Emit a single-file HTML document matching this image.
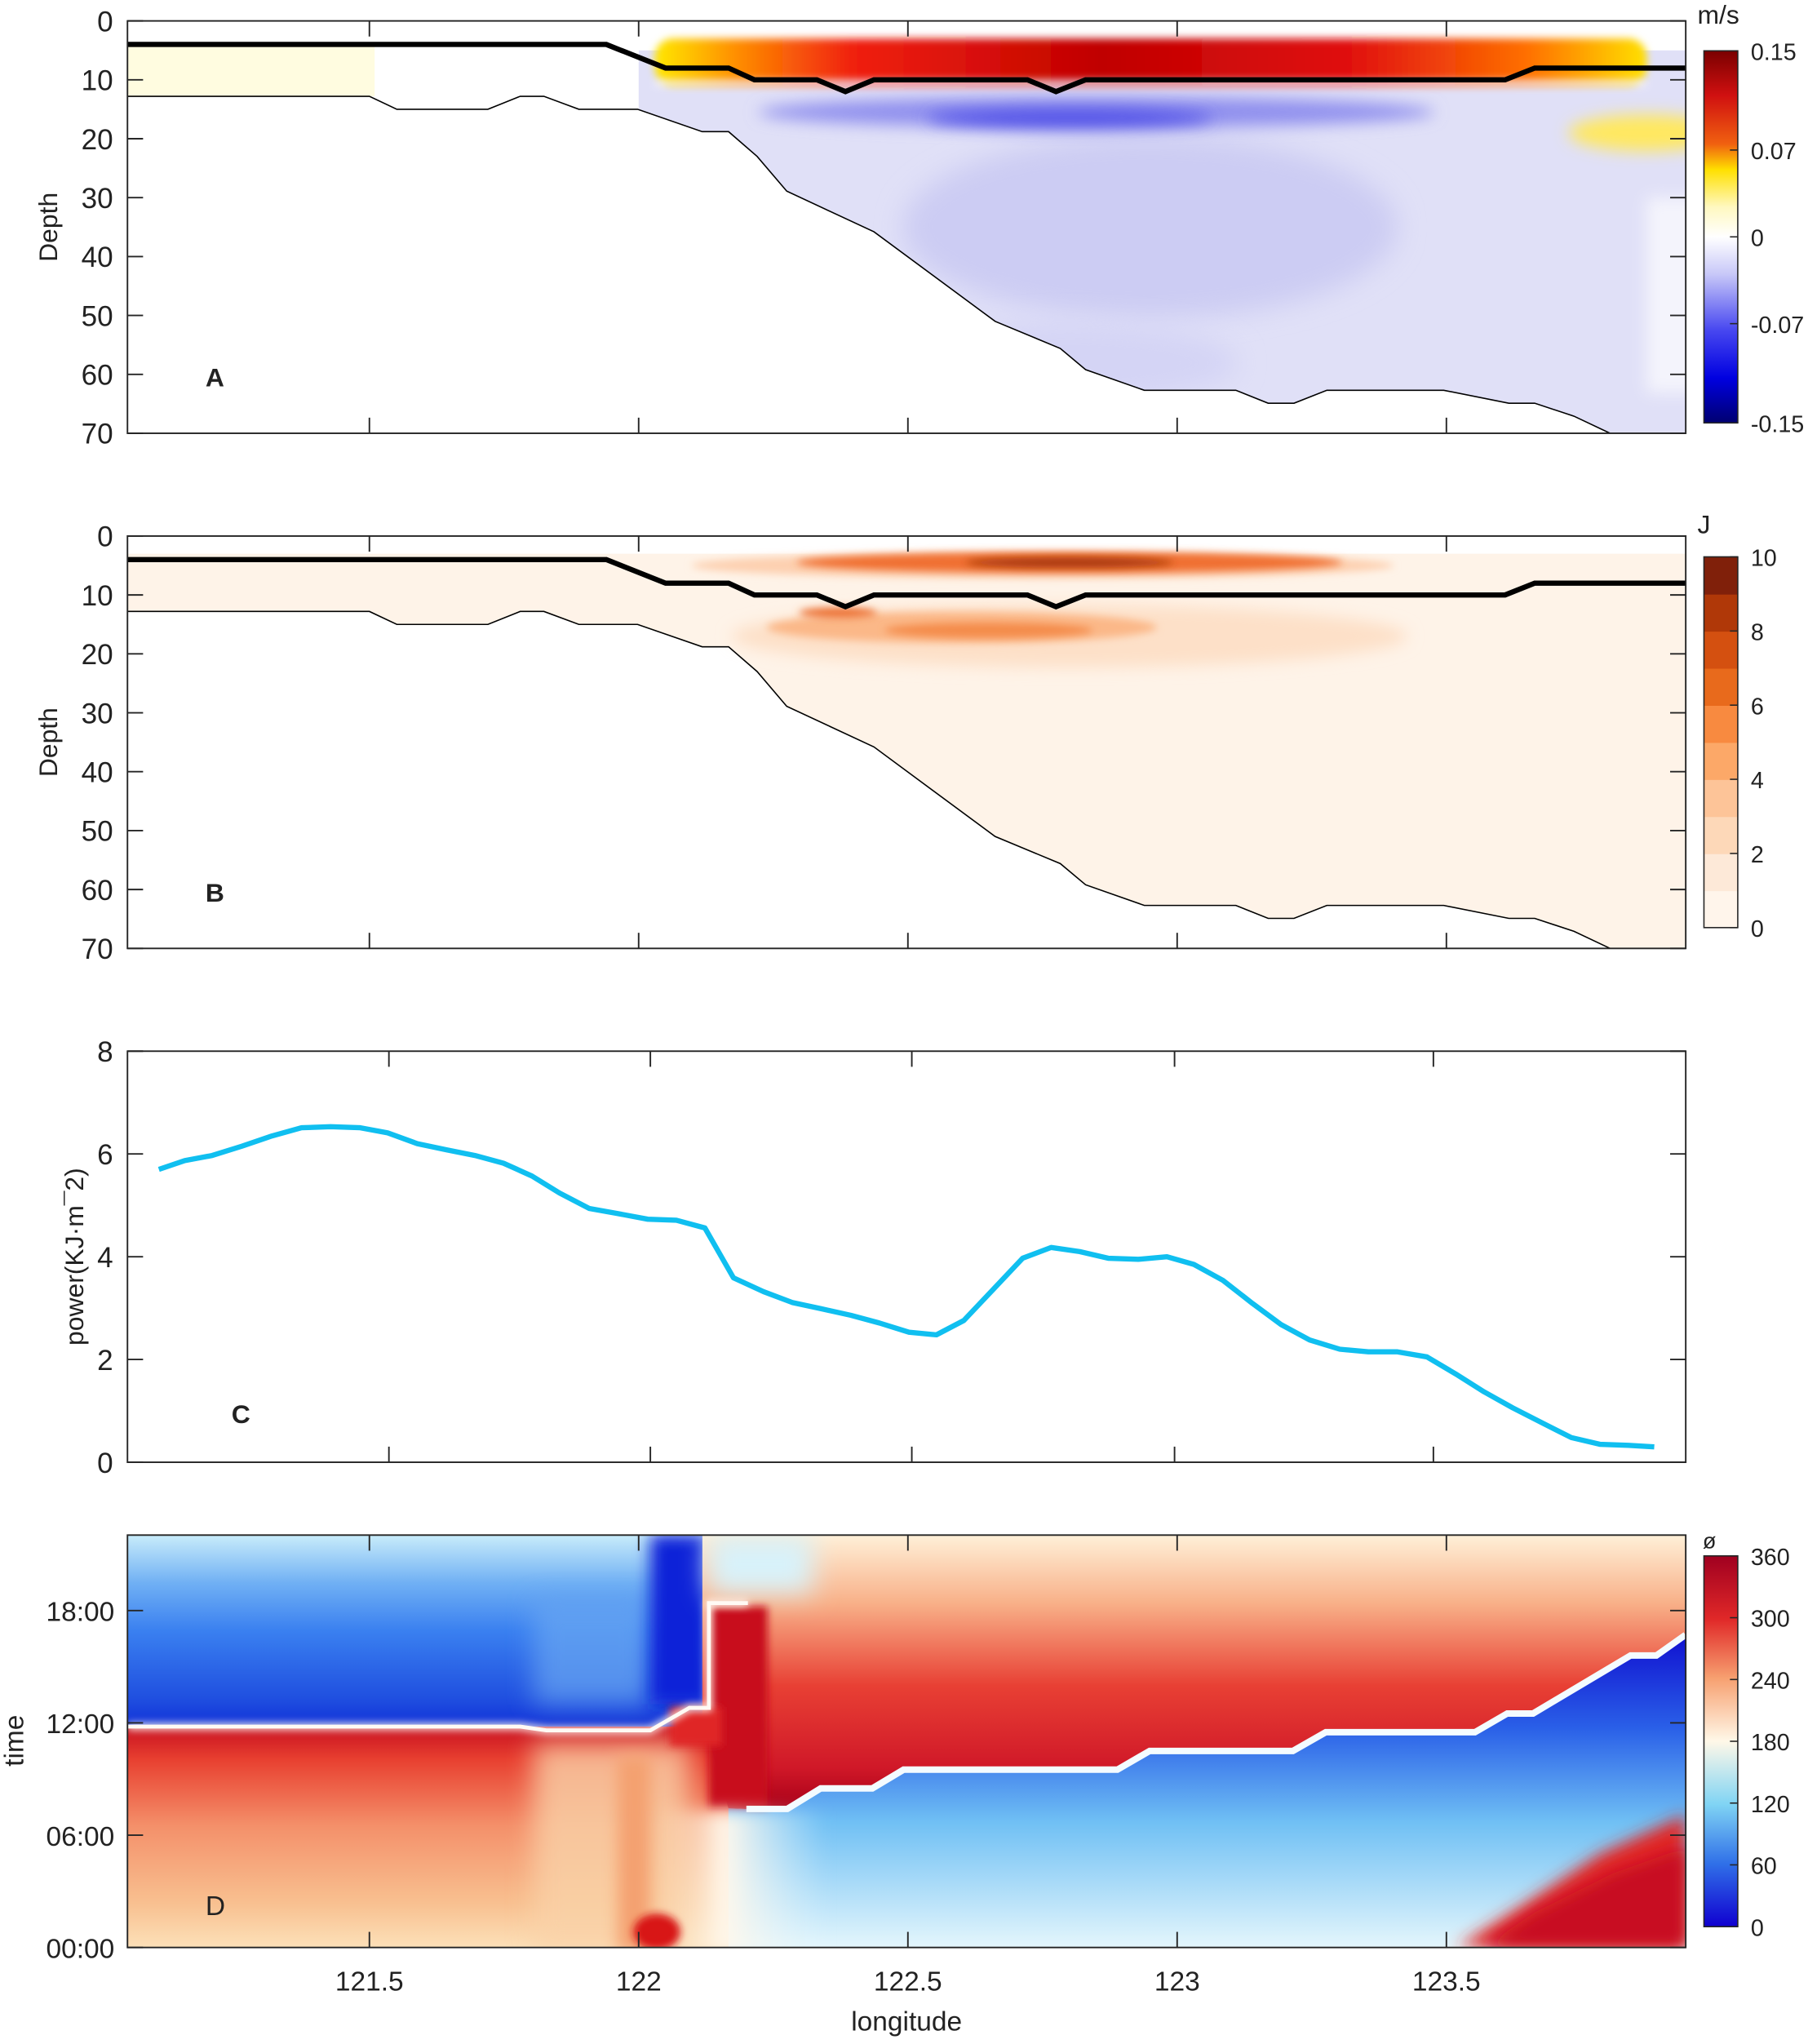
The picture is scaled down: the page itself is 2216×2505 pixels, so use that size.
<!DOCTYPE html>
<html><head><meta charset="utf-8"><style>
html,body{margin:0;padding:0;background:#fff;}
svg text{font-family:"Liberation Sans",sans-serif;fill:#222;}
</style></head><body>
<svg id="fig" xmlns="http://www.w3.org/2000/svg" width="2216" height="2500" viewBox="0 0 1390 1568">
<defs>
<filter id="b6" x="-50%" y="-150%" width="200%" height="400%"><feGaussianBlur stdDeviation="6"/></filter>
<filter id="b10" x="-50%" y="-150%" width="200%" height="400%"><feGaussianBlur stdDeviation="10"/></filter>
<filter id="b3" x="-50%" y="-150%" width="200%" height="400%"><feGaussianBlur stdDeviation="3"/></filter>
<linearGradient id="cbA" x1="0" y1="0" x2="0" y2="1">
<stop offset="0" stop-color="#7a0000"/><stop offset="0.12" stop-color="#d01010"/><stop offset="0.25" stop-color="#f06010"/><stop offset="0.32" stop-color="#ffe000"/><stop offset="0.42" stop-color="#fff8c0"/><stop offset="0.5" stop-color="#ffffff"/><stop offset="0.6" stop-color="#c8c8f8"/><stop offset="0.75" stop-color="#4848f0"/><stop offset="0.88" stop-color="#0000e0"/><stop offset="1" stop-color="#000070"/></linearGradient>
<linearGradient id="cbD" x1="0" y1="0" x2="0" y2="1">
<stop offset="0" stop-color="#a00020"/><stop offset="0.17" stop-color="#e02828"/><stop offset="0.33" stop-color="#f7a070"/><stop offset="0.5" stop-color="#fff8e8"/><stop offset="0.67" stop-color="#80d4f4"/><stop offset="0.83" stop-color="#3070e8"/><stop offset="1" stop-color="#1000d0"/></linearGradient>
<linearGradient id="redH" x1="0" y1="0" x2="1" y2="0">
<stop offset="0" stop-color="#ffe800"/><stop offset="0.08" stop-color="#ff9000"/><stop offset="0.2" stop-color="#f02010"/><stop offset="0.45" stop-color="#c00000"/><stop offset="0.7" stop-color="#e01010"/><stop offset="0.88" stop-color="#ff7000"/><stop offset="1" stop-color="#ffe000"/></linearGradient>
<linearGradient id="dLT" x1="0" y1="0" x2="0" y2="1">
<stop offset="0" stop-color="#c8ecfa"/><stop offset="0.25" stop-color="#70b0f4"/><stop offset="0.5" stop-color="#3a80f0"/><stop offset="0.85" stop-color="#2050e0"/><stop offset="1" stop-color="#1030d8"/></linearGradient>
<linearGradient id="dLB" x1="0" y1="0" x2="0" y2="1">
<stop offset="0" stop-color="#c81020"/><stop offset="0.15" stop-color="#e84030"/><stop offset="0.45" stop-color="#f4906a"/><stop offset="0.8" stop-color="#f8c090"/><stop offset="1" stop-color="#fce0b8"/></linearGradient>
<linearGradient id="dRT" x1="0" y1="0" x2="0" y2="1">
<stop offset="0" stop-color="#fff0d8"/><stop offset="0.25" stop-color="#f8b088"/><stop offset="0.55" stop-color="#e84034"/><stop offset="0.85" stop-color="#d01828"/><stop offset="1" stop-color="#a80018"/></linearGradient>
<linearGradient id="dRB" x1="0" y1="0" x2="0" y2="1">
<stop offset="0" stop-color="#1010d0"/><stop offset="0.3" stop-color="#2a60e8"/><stop offset="0.6" stop-color="#70c0f4"/><stop offset="1" stop-color="#e4f6fc"/></linearGradient>
<linearGradient id="dMid" x1="0" y1="0" x2="1" y2="0">
<stop offset="0" stop-color="#fce8c8" stop-opacity="0"/><stop offset="0.4" stop-color="#fff8ec"/><stop offset="1" stop-color="#e4f6fc" stop-opacity="0"/></linearGradient>
<clipPath id="clipA"><rect x="98" y="16" width="1198" height="317"/></clipPath>
<clipPath id="clipB"><rect x="98" y="412" width="1198" height="317"/></clipPath>
<clipPath id="clipD"><rect x="98" y="1180" width="1198" height="317"/></clipPath>
</defs>
<g id="panelA"></g>
<g id="panelB"></g>
<g id="panelC"></g>
<g id="panelD"></g>
</svg>
<script>
// ---- data ----
const bathyLon = [121.051,121.5,121.551,121.72,121.78,121.824,121.889,121.998,122.118,122.167,122.22,122.275,122.437,122.662,122.783,122.83,122.939,123.109,123.169,123.217,123.278,123.495,123.616,123.664,123.737,123.804];
const bathyDepth = [12.8,12.8,15,15,12.8,12.8,15,15,18.8,18.8,23,28.9,35.8,51,55.6,59.2,62.7,62.7,64.9,64.9,62.7,62.7,64.9,64.9,67.1,70];
const mldLon = [121.051,121.94,122.05,122.167,122.215,122.331,122.384,122.437,122.722,122.775,122.83,123.609,123.664,123.944];
const mldDepth = [4,4,8,8,10,10,12,10,10,12,10,10,8,8];
const powerLon = [121.109,121.157,121.208,121.263,121.319,121.374,121.428,121.483,121.534,121.589,121.643,121.696,121.749,121.802,121.853,121.908,121.961,122.017,122.070,122.123,122.176,122.232,122.285,122.338,122.394,122.447,122.502,122.553,122.604,122.659,122.713,122.766,122.819,122.872,122.928,122.981,123.031,123.085,123.140,123.193,123.246,123.302,123.355,123.408,123.464,123.517,123.570,123.623,123.679,123.732,123.785,123.838,123.886];
const powerVal = [5.70,5.87,5.97,6.15,6.35,6.51,6.53,6.51,6.41,6.20,6.08,5.97,5.82,5.57,5.24,4.94,4.84,4.73,4.71,4.56,3.59,3.32,3.11,2.99,2.86,2.71,2.53,2.48,2.76,3.37,3.97,4.18,4.10,3.97,3.95,4.00,3.85,3.54,3.09,2.68,2.38,2.20,2.15,2.15,2.05,1.72,1.37,1.06,0.76,0.48,0.35,0.33,0.30];
const depthTicks = [0,10,20,30,40,50,60,70];
const lonTicks = [121.5,122,122.5,123,123.5];
const powerTicks = [0,2,4,6,8];
const timeTicks = ["00:00","06:00","12:00","18:00"];
const timeTickHours = [0,6,12,18];
const cbATicks = ["0.15","0.07","0","-0.07","-0.15"];
const cbAVals = [0.15,0.07,0,-0.07,-0.15];
const cbBTicks = [0,2,4,6,8,10];
const cbBColors = ["#fff5eb","#fde9d8","#fdd8b8","#fdc498","#fca868","#f88a40","#e86a1c","#d45010","#b03808","#80200a"];
const cbDTicks = [0,60,120,180,240,300,360];
const phaseLineLon = [122.2,122.276,122.338,122.434,122.492,122.889,122.949,123.215,123.276,123.553,123.613,123.661,123.842,123.890,123.944];
const phaseLineHour = [7.4,7.4,8.5,8.5,9.5,9.5,10.5,10.5,11.5,11.5,12.5,12.5,15.6,15.6,16.7];

// ---- scales ----
const NS="http://www.w3.org/2000/svg";
const X0=98,X1=1296;
function xs(lon){return 284+(lon-121.5)*414;}
function yd(top,d){return top+d*317/70;}
function yp(v){return 1124-v*316/8;}
function yt(h){return 1497-h*(1497-1238)/18;}
function mk(parent,tag,attrs,txt){const e=document.createElementNS(NS,tag);for(const k in attrs)e.setAttribute(k,attrs[k]);if(txt!==undefined)e.textContent=txt;parent.appendChild(e);return e;}

function frame(g,top,bot,tickXs){
  const f=mk(g,'rect',{x:X0,y:top,width:X1-X0,height:bot-top,fill:'none',stroke:'#262626','stroke-width':1.2});
  
  
  tickXs.forEach(x=>{
    mk(g,'line',{x1:x,y1:bot,x2:x,y2:bot-12,stroke:'#262626','stroke-width':1.2});
    mk(g,'line',{x1:x,y1:top,x2:x,y2:top+12,stroke:'#262626','stroke-width':1.2});
  });
}
function depthAxis(g,top,bot){
  depthTicks.forEach(d=>{
    const y=yd(top,d);
    mk(g,'line',{x1:X0,y1:y,x2:X0+12,y2:y,stroke:'#262626','stroke-width':1.2});
    mk(g,'line',{x1:X1,y1:y,x2:X1-12,y2:y,stroke:'#262626','stroke-width':1.2});
    const t=mk(g,'text',{x:87,y:y+8,'text-anchor':'end','font-size':22},String(d));
    
    
  });
  const yl=mk(g,'text',{x:44,y:(top+bot)/2,'text-anchor':'middle','font-size':20,transform:`rotate(-90 44 ${(top+bot)/2})`},'Depth');
  
  
}
function bathyLines(g,top){
  let p=bathyLon.map((l,i)=>`${xs(l)},${yd(top,bathyDepth[i])}`).join(' ');
  const b=mk(g,'polyline',{points:p,fill:'none',stroke:'#000','stroke-width':1});
  
  
  let q=mldLon.map((l,i)=>`${xs(l)},${yd(top,mldDepth[i])}`).join(' ');
  const m=mk(g,'polyline',{points:q,fill:'none',stroke:'#000','stroke-width':4,'stroke-linejoin':'miter'});
  
  
}
function bathyRev(top,from){
  const pts=[];
  for(let i=bathyLon.length-1;i>=from;i--) pts.push(`${xs(bathyLon[i])},${yd(top,bathyDepth[i])}`);
  return pts.join(' ');
}
const lonTickXs=lonTicks.map(xs);

// ---- Panel A ----
(function(){
  const g=document.getElementById('panelA');const top=16,bot=333;
  const c=mk(g,'g',{'clip-path':'url(#clipA)'});
  
  
  // mask water region for panel A blue fill
  const cp=mk(document.querySelector('defs'),'clipPath',{id:'waterA'});
  mk(cp,'polygon',{points:`${xs(122.0)},${yd(top,5)} ${X1},${yd(top,5)} ${X1},${bot} `+bathyRev(top,7)});
  const w=mk(c,'g',{'clip-path':'url(#waterA)'});
  mk(w,'rect',{x:xs(122.0),y:top,width:X1-xs(122.0),height:bot-top,fill:'#e0e0f7'});
  mk(w,'ellipse',{cx:xs(122.95),cy:yd(top,35),rx:190,ry:70,fill:'#ccccf3',filter:'url(#b10)'});
  mk(w,'ellipse',{cx:xs(122.8),cy:yd(top,58),rx:130,ry:30,fill:'#d4d4f5',filter:'url(#b10)'});
  mk(w,'rect',{x:xs(122.08),y:yd(top,40),width:130,height:120,fill:'#f4f4fc',filter:'url(#b10)'});
  mk(w,'rect',{x:X1-30,y:yd(top,30),width:40,height:150,fill:'#f4f4fc',filter:'url(#b6)'});
  mk(w,'ellipse',{cx:xs(122.85),cy:yd(top,15.5),rx:260,ry:12,fill:'#9090ee',filter:'url(#b6)'});
  mk(w,'ellipse',{cx:xs(122.8),cy:yd(top,16.5),rx:110,ry:7,fill:'#5050e8',filter:'url(#b6)'});
  mk(w,'ellipse',{cx:X1-30,cy:yd(top,19),rx:60,ry:14,fill:'#ffe860',filter:'url(#b6)'});
  mk(c,'rect',{x:98,y:yd(top,4),width:190,height:yd(top,12.8)-yd(top,4),fill:'#fffce0'});
  mk(c,'rect',{x:xs(122.03),y:yd(top,3),width:X1-30-xs(122.03),height:yd(top,11)-yd(top,3),rx:14,fill:'url(#redH)',filter:'url(#b3)'});
  mk(c,'rect',{x:xs(122.03),y:yd(top,10),width:X1-30-xs(122.03),height:5,fill:'#f8f4ff',filter:'url(#b3)',opacity:0.8});
  bathyLines(g,top);
  frame(g,top,bot,lonTickXs);depthAxis(g,top,bot);
  const l=mk(g,'text',{x:158,y:297,'font-size':20,'font-weight':'bold'},'A');
  
  const cb=mk(g,'rect',{x:1310,y:39,width:26,height:286,fill:'url(#cbA)',stroke:'#262626','stroke-width':1});
  
  cbAVals.forEach((v,i)=>{const y=39+(0.15-v)/0.30*286;
    mk(g,'line',{x1:1330,y1:y,x2:1336,y2:y,stroke:'#262626'});
    const t=mk(g,'text',{x:1346,y:y+7,'font-size':18},cbATicks[i]);
    });
  const u=mk(g,'text',{x:1305,y:18,'font-size':20},'m/s');
  
})();

// ---- Panel B ----
(function(){
  const g=document.getElementById('panelB');const top=412,bot=729;
  const c=mk(g,'g',{'clip-path':'url(#clipB)'});
  
  
  mk(c,'polygon',{points:`${X0},${yd(top,3)} ${X1},${yd(top,3)} ${X1},${bot} `+bathyRev(top,0),fill:'#fef3e8'});
  mk(c,'ellipse',{cx:xs(122.8),cy:yd(top,17),rx:260,ry:24,fill:'#fde0c8',filter:'url(#b6)'});
  mk(c,'ellipse',{cx:xs(122.75),cy:yd(top,5),rx:270,ry:10,fill:'#fdd0b0',filter:'url(#b3)'});
  mk(c,'ellipse',{cx:xs(122.8),cy:yd(top,4.5),rx:210,ry:8,fill:'#f07030',filter:'url(#b3)'});
  mk(c,'ellipse',{cx:xs(122.8),cy:yd(top,4.5),rx:80,ry:4,fill:'#a83808',filter:'url(#b3)'});
  mk(c,'ellipse',{cx:xs(122.6),cy:yd(top,15.5),rx:150,ry:12,fill:'#fbb888',filter:'url(#b3)'});
  mk(c,'ellipse',{cx:xs(122.65),cy:yd(top,16),rx:80,ry:6,fill:'#f48c4c',filter:'url(#b3)'});
  mk(c,'ellipse',{cx:xs(122.37),cy:yd(top,13),rx:30,ry:4,fill:'#ec7030',filter:'url(#b3)'});
  bathyLines(g,top);
  frame(g,top,bot,lonTickXs);depthAxis(g,top,bot);
  const l=mk(g,'text',{x:158,y:693,'font-size':20,'font-weight':'bold'},'B');
  
  const cg=mk(g,'g',{});
  
  const h=(713-428)/10;
  cbBColors.forEach((col,i)=>{mk(cg,'rect',{x:1310,y:713-(i+1)*h,width:26,height:h+0.5,fill:col});});
  mk(cg,'rect',{x:1310,y:428,width:26,height:285,fill:'none',stroke:'#262626'});
  cbBTicks.forEach(v=>{const y=713-v*h;
    mk(g,'line',{x1:1330,y1:y,x2:1336,y2:y,stroke:'#262626'});
    const t=mk(g,'text',{x:1346,y:y+7,'font-size':18},String(v));
    });
  const u=mk(g,'text',{x:1305,y:410,'font-size':20},'J');
  
})();

// ---- Panel C ----
(function(){
  const g=document.getElementById('panelC');const top=808,bot=1124;
  frame(g,top,bot,[299,500,701,903,1102]);
  powerTicks.forEach(v=>{const y=yp(v);
    mk(g,'line',{x1:X0,y1:y,x2:X0+12,y2:y,stroke:'#262626','stroke-width':1.2});
    mk(g,'line',{x1:X1,y1:y,x2:X1-12,y2:y,stroke:'#262626','stroke-width':1.2});
    const t=mk(g,'text',{x:87,y:y+8,'text-anchor':'end','font-size':22},String(v));
    });
  const pts=powerLon.map((l,i)=>`${xs(l)},${yp(powerVal[i])}`).join(' ');
  const ln=mk(g,'polyline',{points:pts,fill:'none',stroke:'#10bff0','stroke-width':4,'stroke-linejoin':'round'});
  
  const yl=mk(g,'text',{x:64,y:966,'text-anchor':'middle','font-size':20,transform:'rotate(-90 64 966)'},'power(KJ·m¯2)');
  
  const l=mk(g,'text',{x:178,y:1094,'font-size':20,'font-weight':'bold'},'C');
  
})();

// ---- Panel D ----
(function(){
  const g=document.getElementById('panelD');const top=1180,bot=1497;
  const c=mk(g,'g',{'clip-path':'url(#clipD)'});
  
  
  const yl12=yt(11.8);
  mk(c,'rect',{x:98,y:top,width:470,height:yl12-top,fill:'url(#dLT)'});
  mk(c,'rect',{x:98,y:yl12,width:470,height:bot-yl12,fill:'url(#dLB)'});
  mk(c,'rect',{x:410,y:1340,width:120,height:160,fill:'#f9d2a8',filter:'url(#b10)',opacity:0.8});
  mk(c,'rect',{x:475,y:1350,width:25,height:150,fill:'#f4a070',filter:'url(#b6)'});
  mk(c,'rect',{x:410,y:1230,width:90,height:80,fill:'#6aa8f2',filter:'url(#b10)',opacity:0.7});
  mk(c,'rect',{x:500,y:1180,width:45,height:130,fill:'#1020d8',filter:'url(#b6)'});
  const lineXY=phaseLineLon.map((l,i)=>[xs(l),yt(phaseLineHour[i])]);
  const linePts=lineXY.map(p=>p.join(',')).join(' ');
  mk(c,'polygon',{points:`540,${top} ${X1},${top} ${X1},${lineXY[lineXY.length-1][1]} `+lineXY.slice().reverse().map(p=>p.join(',')).join(' ')+` 560,1390 540,1320`,fill:'url(#dRT)'});
  mk(c,'polygon',{points:`560,${bot} ${X1},${bot} ${X1},${lineXY[lineXY.length-1][1]} `+lineXY.slice().reverse().map(p=>p.join(',')).join(' ')+` 560,1390`,fill:'url(#dRB)'});
  mk(c,'rect',{x:545,y:1180,width:80,height:45,fill:'#d8f2fa',filter:'url(#b10)'});
  mk(c,'rect',{x:545,y:1235,width:45,height:155,fill:'#c8101c',filter:'url(#b3)'});
  mk(c,'rect',{x:515,y:1312,width:40,height:30,fill:'#e02828',filter:'url(#b3)'});
  mk(c,'rect',{x:505,y:1392,width:130,height:110,fill:'url(#dMid)',filter:'url(#b6)'});
  mk(c,'ellipse',{cx:505,cy:1485,rx:18,ry:14,fill:'#d81818',filter:'url(#b3)'});
  mk(c,'polygon',{points:`1120,${bot} 1170,1465 1230,1425 1296,1395 1296,${bot}`,fill:'#e02828',filter:'url(#b6)'});
  mk(c,'polygon',{points:`1140,${bot} 1180,1470 1240,1440 1296,1420 1296,${bot}`,fill:'#c81020',filter:'url(#b6)'});
  mk(c,'polyline',{points:`98,${yl12} 400,${yl12} 420,${yt(11.6)} 500,${yt(11.6)} 530,${yt(12.8)} 545,${yt(12.8)} 545,${yt(18.4)} 575,${yt(18.4)}`,fill:'none',stroke:'#fff8f0','stroke-width':5,filter:'url(#b3)'});
  mk(c,'polyline',{points:`98,${yl12} 400,${yl12} 420,${yt(11.6)} 500,${yt(11.6)} 530,${yt(12.8)} 545,${yt(12.8)} 545,${yt(18.4)} 575,${yt(18.4)}`,fill:'none',stroke:'#fffaf4','stroke-width':3});
  const pl=mk(c,'polyline',{points:linePts,fill:'none',stroke:'#f4fbff','stroke-width':5});
  
  frame(g,top,bot,lonTickXs);
  timeTicks.forEach((s,i)=>{const y=yt(timeTickHours[i]);
    mk(g,'line',{x1:X0,y1:y,x2:X0+12,y2:y,stroke:'#262626','stroke-width':1.2});
    mk(g,'line',{x1:X1,y1:y,x2:X1-12,y2:y,stroke:'#262626','stroke-width':1.2});
    const t=mk(g,'text',{x:88,y:y+8,'text-anchor':'end','font-size':21},s);
    });
  lonTicks.forEach(v=>{
    const t=mk(g,'text',{x:xs(v),y:1530,'text-anchor':'middle','font-size':21},String(v));
    });
  const xl=mk(g,'text',{x:697,y:1561,'text-anchor':'middle','font-size':21},'longitude');
  
  const yl=mk(g,'text',{x:18,y:1338,'text-anchor':'middle','font-size':21,transform:'rotate(-90 18 1338)'},'time');
  
  const l=mk(g,'text',{x:158,y:1472,'font-size':21},'D');
  
  const cb=mk(g,'rect',{x:1310,y:1196,width:26,height:285,fill:'url(#cbD)',stroke:'#262626','stroke-width':1});
  
  cbDTicks.forEach(v=>{const y=1481-v/360*285;
    mk(g,'line',{x1:1330,y1:y,x2:1336,y2:y,stroke:'#262626'});
    const t=mk(g,'text',{x:1346,y:y+7,'font-size':18},String(v));
    });
  const u=mk(g,'text',{x:1309,y:1190,'font-size':17},'ø');
  
})();
</script>
</body></html>
